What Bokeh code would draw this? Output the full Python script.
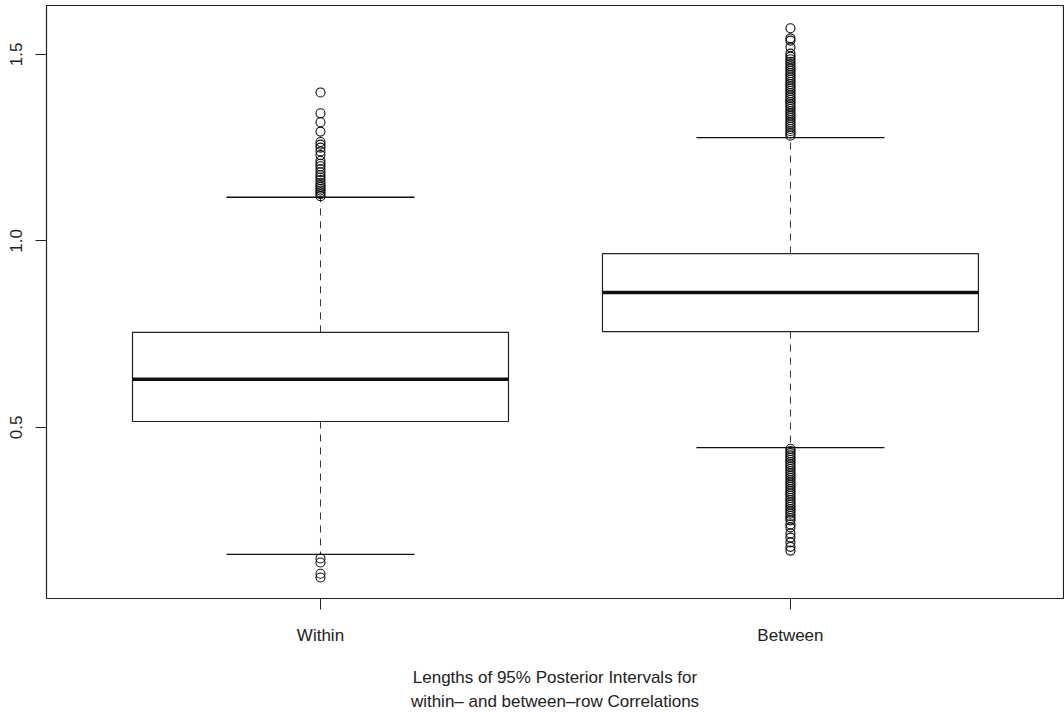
from bokeh.plotting import figure
from bokeh.models import Range1d, FixedTicker, LinearAxis
from bokeh.embed import file_html
from bokeh.resources import INLINE

# ---- data ----
categories = ["Within", "Between"]
q1 = [0.516, 0.757]
median = [0.629, 0.862]
q3 = [0.755, 0.966]
lower_whisker = [0.160, 0.446]
upper_whisker = [1.117, 1.277]

within_outliers = [1.398, 1.342, 1.318, 1.293, 1.265, 1.258, 1.250, 1.240, 1.230,
                   1.215, 1.207, 1.200, 1.192, 1.184, 1.176, 1.170, 1.163, 1.156,
                   1.150, 1.145, 1.140, 1.135, 1.130, 1.125, 1.120,
                   0.149, 0.138, 0.108, 0.098]
between_outliers = [1.570, 1.543, 1.537, 1.519, 1.502, 1.494, 1.487, 1.480, 1.474,
                    1.468, 1.462, 1.456, 1.450, 1.444, 1.438, 1.432, 1.426, 1.420,
                    1.414, 1.408, 1.402, 1.396, 1.390, 1.384, 1.378, 1.372, 1.366,
                    1.360, 1.354, 1.348, 1.342, 1.336, 1.330, 1.324, 1.318, 1.312,
                    1.306, 1.300, 1.294, 1.288, 1.282,
                    0.443, 0.437, 0.431, 0.425, 0.419, 0.413, 0.407, 0.401, 0.395,
                    0.389, 0.383, 0.377, 0.371, 0.365, 0.359, 0.353, 0.347, 0.341,
                    0.335, 0.329, 0.323, 0.317, 0.311, 0.305, 0.299, 0.293, 0.287,
                    0.281, 0.275, 0.269, 0.263, 0.257, 0.251, 0.240, 0.232, 0.216,
                    0.205, 0.192, 0.180, 0.170]
y_ticks = [0.5, 1.0, 1.5]
x_title = "Lengths of 95% Posterior Intervals for\nwithin\u2013 and between\u2013row Correlations"

xs = [i + 1 for i in range(len(categories))]
BOX_HALF = 0.4
CAP_HALF = 0.2
FONT = "Liberation Sans"

p = figure(width=1064, height=714, output_backend="svg", toolbar_location=None,
           x_range=Range1d(0.417, 2.581), y_range=Range1d(0.0416, 1.631),
           x_axis_location=None, y_axis_location=None,
           min_border_left=46, min_border_right=1, min_border_top=5,
           min_border_bottom=116)
p.grid.visible = False
p.outline_line_color = "#222222"
p.outline_line_width = 1.2
p.background_fill_color = "white"
p.border_fill_color = "white"

# whiskers (dashed)
p.segment(x0=xs, y0=q3, x1=xs, y1=upper_whisker, line_color="#333333",
          line_width=1, line_dash="7 6")
p.segment(x0=xs, y0=q1, x1=xs, y1=lower_whisker, line_color="#333333",
          line_width=1, line_dash="7 6")
# caps
p.segment(x0=[x - CAP_HALF for x in xs], y0=upper_whisker,
          x1=[x + CAP_HALF for x in xs], y1=upper_whisker,
          line_color="#111111", line_width=1.4)
p.segment(x0=[x - CAP_HALF for x in xs], y0=lower_whisker,
          x1=[x + CAP_HALF for x in xs], y1=lower_whisker,
          line_color="#111111", line_width=1.4)
# boxes
p.quad(left=[x - BOX_HALF for x in xs], right=[x + BOX_HALF for x in xs],
       bottom=q1, top=q3, fill_color="white", line_color="#222222", line_width=1.2)
# medians
p.segment(x0=[x - BOX_HALF for x in xs], y0=median,
          x1=[x + BOX_HALF for x in xs], y1=median,
          line_color="#111111", line_width=3.5, line_cap="butt")
# outliers
p.scatter(x=[xs[0]] * len(within_outliers), y=within_outliers, marker="circle",
          size=9, fill_color=None, line_color="#111111", line_width=1.1)
p.scatter(x=[xs[1]] * len(between_outliers), y=between_outliers, marker="circle",
          size=9, fill_color=None, line_color="#111111", line_width=1.2)

# left axis
ya = LinearAxis(ticker=FixedTicker(ticks=y_ticks))
ya.major_label_overrides = {t: f"{t:.1f}" for t in y_ticks}
ya.major_label_orientation = "vertical"
ya.major_tick_out = 11
ya.major_tick_in = 0
ya.minor_tick_out = 0
ya.minor_tick_in = 0
ya.axis_line_color = None
ya.major_tick_line_color = "#222222"
ya.major_label_standoff = 13
ya.major_label_text_font = FONT
ya.major_label_text_font_size = "17px"
ya.major_label_text_color = "#222222"
p.add_layout(ya, "left")

# bottom axis
xa = LinearAxis(ticker=FixedTicker(ticks=xs))
xa.major_label_overrides = {x: c for x, c in zip(xs, categories)}
xa.major_tick_out = 11
xa.major_tick_in = 0
xa.minor_tick_out = 0
xa.minor_tick_in = 0
xa.axis_line_color = None
xa.major_tick_line_color = "#222222"
xa.major_label_standoff = 16
xa.major_label_text_font = FONT
xa.major_label_text_font_size = "17px"
xa.major_label_text_color = "#222222"
xa.axis_label = x_title
xa.axis_label_text_font = FONT
xa.axis_label_text_font_size = "17px"
xa.axis_label_text_font_style = "normal"
xa.axis_label_text_color = "#222222"
xa.axis_label_standoff = 20
xa.axis_label_text_line_height = 1.3
p.add_layout(xa, "below")

open("out.html", "w").write(file_html(p, INLINE))
